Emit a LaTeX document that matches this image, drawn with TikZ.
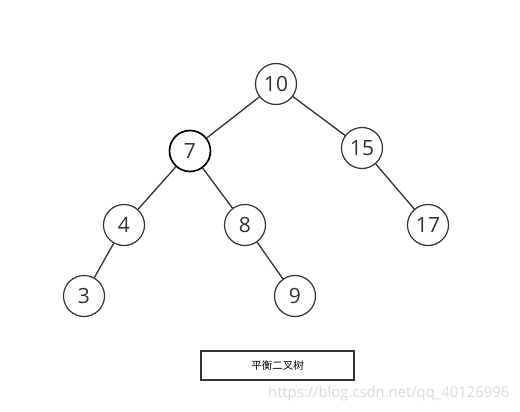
\documentclass[tikz,border=0pt]{standalone}
\usepackage{fontspec}
\setmainfont{Open Sans}
\newfontfamily\cjk{Noto Sans CJK SC}
\usetikzlibrary{%
  positioning
}
\tikzset{
  treenode/.style={circle,draw=black!80,line width=1.2pt,minimum size=41pt,inner sep=0pt,font=\fontsize{21}{21}\selectfont,text=black!80},
  treeedge/.style={draw=black!80,line width=1.3pt},
}

\begin{document}
\begin{tikzpicture}[x=1pt,y=-1pt]
\useasboundingbox (0,0) rectangle (520,412);
\def\rowA{84}
\def\rowD{296}
%%%nodes
\node[treenode] (n10) at (276,\rowA) {10};
\node[treenode,line width=1.7pt,draw=black] (n7) at (190,151) {7};
\node[treenode] (n15) at (362,148) {15};
\node[treenode] (n4) at (124,225) {4};
\node[treenode] (n8) at (245,225) {8};
\node[treenode] (n17) at (428,225) {17};
\node[treenode] (n3) at (84,\rowD) {3};
\node[treenode] (n9) at (295,\rowD) {9};

%%%edges
\draw[treeedge] (n10) -- (n7);
\draw[treeedge] (n10) -- (n15);
\draw[treeedge] (n7) -- (n4);
\draw[treeedge] (n7) -- (n8);
\draw[treeedge] (n15) -- (n17);
\draw[treeedge] (n4) -- (n3);
\draw[treeedge] (n8) -- (n9);

%%%caption
\node[draw=black!80,line width=1.2pt,minimum width=153pt,minimum height=29pt,inner sep=0pt,font=\cjk\fontsize{10.5}{10.5}\selectfont] (caption) at (277.5,365.5) {平衡二叉树};
\node[anchor=west,text=black!15,font=\fontsize{14.8}{14.8}\selectfont,inner sep=0pt] (mark) at (268,394) {https://blog.csdn.net/qq\_40126996};

\end{tikzpicture}
\end{document}
